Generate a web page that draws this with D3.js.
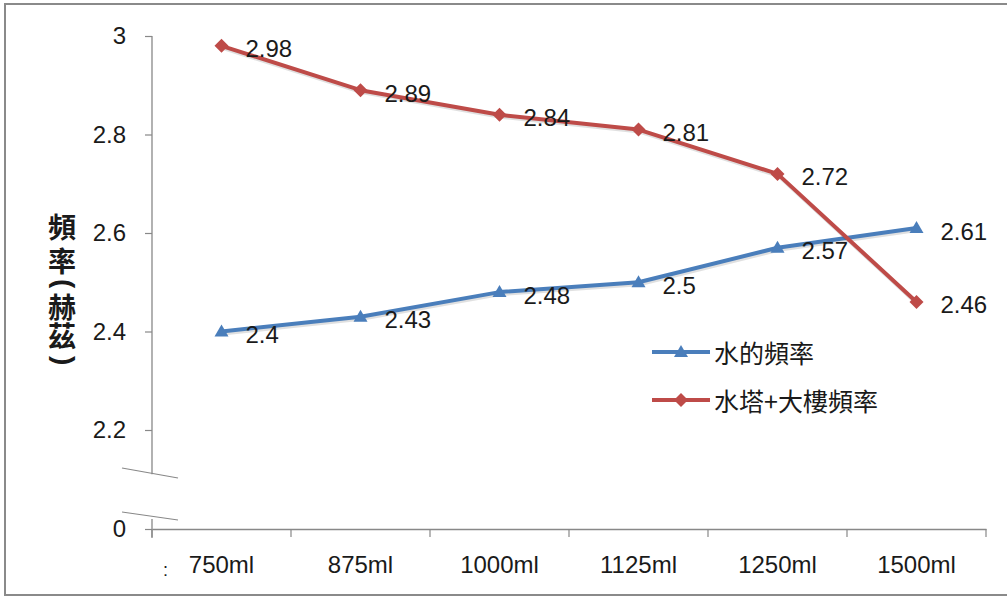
<!DOCTYPE html>
<html>
<head>
<meta charset="utf-8">
<script src="https://cdn.jsdelivr.net/npm/d3@7"></script>
<style>
  html, body { margin: 0; padding: 0; background: #fff; }
  svg { display: block; }
  text { font-family: "Liberation Sans", Arial, sans-serif; fill: #1a1a1a; }
  .cjk { font-family: "Noto Sans CJK TC", "Noto Sans CJK SC", sans-serif; }
</style>
</head>
<body>
<svg id="chart" width="1007" height="598"></svg>
<script>
// Bottle volumes along the x axis
const categories = ["750ml", "875ml", "1000ml", "1125ml", "1250ml", "1500ml"];
// Measured frequencies (Hz)
const waterFreq = [2.4, 2.43, 2.48, 2.5, 2.57, 2.61];
const towerFreq = [2.98, 2.89, 2.84, 2.81, 2.72, 2.46];
const seriesNames = ["水的頻率", "水塔+大樓頻率"];
// Y axis ticks: zero below the break, then 2.2 … 3
const yTicks = [0, 2.2, 2.4, 2.6, 2.8, 3];
// Y axis title, one glyph per row (parentheses are turned sideways)
const yTitle = ["頻", "率", "(", "赫", "茲", ")"];

const svg = d3.select("#chart");

// Frame around the chart area
svg.append("rect").attr("x", 5).attr("y", 4).attr("width", 1010).attr("height", 591)
  .attr("fill", "#fff").attr("stroke", "#8a8a8a").attr("stroke-width", 2);

const left = 152, right = 986, axisY = 529;
const breakVal = 2.11;

const x = d3.scaleBand().domain(categories).range([left, right]).paddingInner(0).paddingOuter(0);
// Piecewise scale: compressed gap between 0 and the axis break
const y = d3.scaleLinear().domain([0, breakVal, 3]).range([axisY, 36 + (3 - breakVal) * 492.5, 36]);

const cx = d => x(d) + x.bandwidth() / 2;

// Y axis (ticks and labels), domain line drawn separately around the break
const yAxis = d3.axisLeft(y).tickValues(yTicks).tickSize(7).tickPadding(19)
  .tickFormat(d => d === 0 ? "0" : d3.format("~g")(d));
const gy = svg.append("g").attr("transform", `translate(${left},0)`).call(yAxis);
gy.select(".domain").remove();
gy.selectAll(".tick line").attr("stroke", "#888").attr("stroke-width", 1.2);
gy.selectAll(".tick text").style("font-size", "24px").attr("fill", "#1a1a1a")
  .style("font-family", "Liberation Sans, Arial, sans-serif");

const axisCol = "#888";
// Upper axis segment
svg.append("line").attr("x1", left).attr("x2", left).attr("y1", y(3)).attr("y2", y(breakVal))
  .attr("stroke", axisCol).attr("stroke-width", 1.3);
// Lower short segment at zero
svg.append("line").attr("x1", left).attr("x2", left).attr("y1", axisY - 10).attr("y2", axisY + 9)
  .attr("stroke", axisCol).attr("stroke-width", 1.3);
// Break marks
[[468, 478], [512, 520]].forEach(([a, b]) => {
  svg.append("line").attr("x1", 122).attr("y1", a).attr("x2", 178).attr("y2", b)
    .attr("stroke", axisCol).attr("stroke-width", 1.2);
});

// X axis
const xAxis = d3.axisBottom(x).tickSize(0).tickPadding(27);
const gx = svg.append("g").attr("transform", `translate(0,${axisY})`).call(xAxis);
gx.select(".domain").attr("stroke", axisCol).attr("stroke-width", 1.3);
gx.selectAll(".tick text").style("font-size", "24px").attr("fill", "#1a1a1a")
  .style("font-family", "Liberation Sans, Arial, sans-serif");
// Category boundary ticks
const bounds = categories.map(c => x(c)).concat([right]);
svg.selectAll(".bt").data(bounds).enter().append("line")
  .attr("x1", d => d).attr("x2", d => d).attr("y1", axisY).attr("y2", axisY + 8)
  .attr("stroke", axisCol).attr("stroke-width", 1.2);
// Clipped leftover label glyph
svg.append("text").attr("x", 163).attr("y", 576).style("font-size", "18px").attr("fill", "#777").text(":");

// Y axis title: stacked glyphs in one text element
const titleFs = 28, titleX = 62;
const titleCenters = [227, 261, 284, 307, 336, 361];
const title = svg.append("text").style("font-size", titleFs + "px").style("font-weight", "bold");
yTitle.forEach((ch, i) => {
  const cy = titleCenters[i];
  const t = title.append("tspan").text(ch);
  if (ch === "(" || ch === ")") {
    // sideways parenthesis, rotated about its origin
    t.style("font-family", "Liberation Sans, Arial, sans-serif")
      .attr("x", titleX - 7.3).attr("y", cy - 4.9).attr("rotate", 90);
  } else {
    t.attr("class", "cjk")
      .style("font-family", "Noto Sans CJK TC, Noto Sans CJK SC, sans-serif")
      .attr("x", titleX - titleFs / 2).attr("y", cy + 0.38 * titleFs);
  }
});

const blue = "#4A7EBB", red = "#BE4B48";
const line = d3.line().x((d, i) => cx(categories[i])).y(d => y(d));

function drawSeries(vals, color, marker) {
  const g = svg.append("g");
  // soft shadow
  g.append("path").datum(vals).attr("d", line).attr("fill", "none")
    .attr("stroke", "rgba(0,0,0,0.12)").attr("stroke-width", 4).attr("transform", "translate(1,2)");
  g.append("path").datum(vals).attr("d", line).attr("fill", "none")
    .attr("stroke", color).attr("stroke-width", 4).attr("stroke-linejoin", "round");
  g.selectAll(".m").data(vals).enter().append("path")
    .attr("transform", (d, i) => `translate(${cx(categories[i])},${y(d)})`)
    .attr("d", marker).attr("fill", color);
}
const tri = "M0,-7 L7,5 L-7,5 Z";
const dia = "M0,-7 L7,0 L0,7 L-7,0 Z";
drawSeries(waterFreq, blue, tri);
drawSeries(towerFreq, red, dia);

// Value labels to the right of each point
function drawLabels(vals) {
  svg.append("g").selectAll("text").data(vals).enter().append("text")
    .attr("x", (d, i) => cx(categories[i]) + 24)
    .attr("y", d => y(d) + 3)
    .attr("dominant-baseline", "central")
    .style("font-size", "24px")
    .text(d => d3.format("~g")(d));
}
drawLabels(waterFreq);
drawLabels(towerFreq);

// Legend
const legend = svg.append("g");
[[blue, tri, 352], [red, dia, 400]].forEach(([c, m, ly], i) => {
  legend.append("line").attr("x1", 652).attr("x2", 710).attr("y1", ly).attr("y2", ly)
    .attr("stroke", c).attr("stroke-width", 4);
  legend.append("path").attr("d", m).attr("fill", c).attr("transform", `translate(681,${ly})`);
  legend.append("text").attr("class", "cjk").attr("x", 714).attr("y", ly)
    .attr("dominant-baseline", "central").style("font-size", "25px").text(seriesNames[i]);
});
</script>
</body>
</html>
